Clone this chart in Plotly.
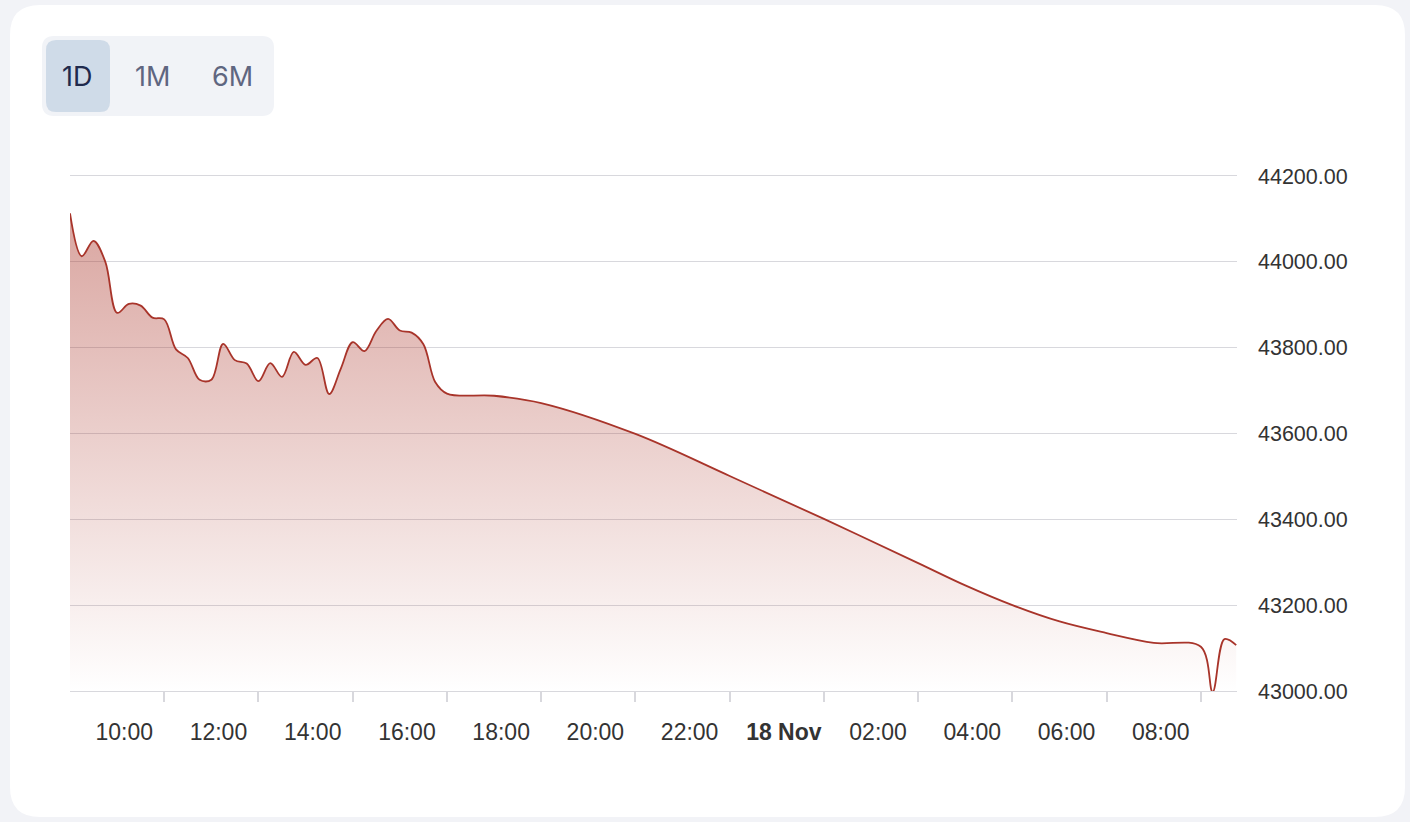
import plotly.graph_objects as go

# ---------------- data ----------------
session_times = [
    "2024-11-17 08:00", "2024-11-17 08:15", "2024-11-17 08:30", "2024-11-17 08:45",
    "2024-11-17 09:00", "2024-11-17 09:15", "2024-11-17 09:30", "2024-11-17 09:45",
    "2024-11-17 10:00", "2024-11-17 10:15", "2024-11-17 10:30", "2024-11-17 10:45",
    "2024-11-17 11:00", "2024-11-17 11:15", "2024-11-17 11:30", "2024-11-17 11:45",
    "2024-11-17 12:00", "2024-11-17 12:15", "2024-11-17 12:30", "2024-11-17 12:45",
    "2024-11-17 13:00", "2024-11-17 13:15", "2024-11-17 13:30", "2024-11-17 13:45",
    "2024-11-17 14:00", "2024-11-17 14:15", "2024-11-17 14:30", "2024-11-17 14:45",
    "2024-11-17 15:00", "2024-11-17 15:15", "2024-11-17 15:30", "2024-11-17 15:45",
    "2024-11-17 16:00",
]
session_values = [
    44113, 44013, 44049, 44000,
    43881, 43902, 43898, 43870,
    43866, 43796, 43776, 43725,
    43725, 43809, 43771, 43763,
    43722, 43764, 43732, 43790,
    43760, 43776, 43692, 43752,
    43813, 43792, 43839, 43867,
    43840, 43835, 43808, 43720,
    43693,
]
overnight_times = [
    "2024-11-17 17:00", "2024-11-17 18:00", "2024-11-17 20:00", "2024-11-17 22:00",
    "2024-11-18 00:00", "2024-11-18 02:00", "2024-11-18 03:00", "2024-11-18 04:00",
    "2024-11-18 05:00", "2024-11-18 06:00", "2024-11-18 07:00",
]
overnight_values = [43688, 43671, 43599, 43501, 43401, 43298, 43246, 43200,
                    43162, 43135, 43112]
morning_times = ["2024-11-18 08:00", "2024-11-18 08:15", "2024-11-18 08:30", "2024-11-18 08:45"]
morning_values = [43103, 42998, 43121, 43107]

tick_times = [
    "2024-11-17 10:00", "2024-11-17 12:00", "2024-11-17 14:00", "2024-11-17 16:00",
    "2024-11-17 18:00", "2024-11-17 20:00", "2024-11-17 22:00", "2024-11-18 00:00",
    "2024-11-18 02:00", "2024-11-18 04:00", "2024-11-18 06:00", "2024-11-18 08:00",
]
label_times = [
    "2024-11-17 09:09", "2024-11-17 11:09", "2024-11-17 13:09", "2024-11-17 15:09",
    "2024-11-17 17:09", "2024-11-17 19:09", "2024-11-17 21:09", "2024-11-17 23:09",
    "2024-11-18 01:09", "2024-11-18 03:09", "2024-11-18 05:09", "2024-11-18 07:09",
]
tick_labels = ["10:00", "12:00", "14:00", "16:00", "18:00", "20:00", "22:00",
               "<b>18 Nov</b>", "02:00", "04:00", "06:00", "08:00"]
y_ticks = [43000, 43200, 43400, 43600, 43800, 44000, 44200]
range_buttons = ["1D", "1M", "6M"]

x_range = ["2024-11-17 08:00", "2024-11-18 08:46"]
y_range = [43000, 44200]

times = session_times + overnight_times + morning_times
values = session_values + overnight_values + morning_values

# ---------------- layout helpers ----------------
W, H = 1410, 822
L, R, T, B = 70, 1237, 176, 691


def px(x):
    return (x - L) / (R - L)


def py(y):
    return (B - y) / (B - T)


def rrect(x0, y0, x1, y1, r):
    p = [
        f"M {px(x0 + r)} {py(y0)}",
        f"L {px(x1 - r)} {py(y0)}",
        f"Q {px(x1)} {py(y0)} {px(x1)} {py(y0 + r)}",
        f"L {px(x1)} {py(y1 - r)}",
        f"Q {px(x1)} {py(y1)} {px(x1 - r)} {py(y1)}",
        f"L {px(x0 + r)} {py(y1)}",
        f"Q {px(x0)} {py(y1)} {px(x0)} {py(y1 - r)}",
        f"L {px(x0)} {py(y0 + r)}",
        f"Q {px(x0)} {py(y0)} {px(x0 + r)} {py(y0)}",
        "Z",
    ]
    return " ".join(p)


LINE = "#a8342a"
GRID = "#d8d8dd"
FONT = "Helvetica Neue, Helvetica, Arial, Liberation Sans, sans-serif"

fig = go.Figure()
fig.add_trace(go.Scatter(
    x=times, y=values, mode="lines",
    line=dict(color=LINE, width=1.8, shape="spline", smoothing=1),
    fill="tozeroy",
    fillgradient=dict(
        type="vertical", start=43000, stop=44200,
        colorscale=[[0, "rgba(169,50,38,0.0)"], [1, "rgba(169,50,38,0.47)"]],
    ),
    hoverinfo="skip", showlegend=False,
))
# invisible trace for the label axis
fig.add_trace(go.Scatter(x=x_range, y=[None, None], xaxis="x2", yaxis="y",
                         mode="lines", hoverinfo="skip", showlegend=False))

shapes = [
    dict(type="path", xref="paper", yref="paper", path=rrect(10, 5, 1405, 817, 30),
         fillcolor="white", line=dict(width=0), layer="below"),
    dict(type="path", xref="paper", yref="paper", path=rrect(42, 36, 274, 116, 12),
         fillcolor="#f1f3f7", line=dict(width=0), layer="below"),
    dict(type="path", xref="paper", yref="paper", path=rrect(46, 40, 110, 112, 10),
         fillcolor="#cfdbe8", line=dict(width=0), layer="below"),
]

annotations = []
btn_x = [77, 152, 232]
btn_col = ["#1f2a4d", "#5f6680", "#5f6680"]
for lbl, bx, bc in zip(range_buttons, btn_x, btn_col):
    annotations.append(dict(
        text=lbl, x=px(bx), y=py(76), xref="paper", yref="paper",
        xanchor="center", yanchor="middle", showarrow=False,
        font=dict(family="Inter, Noto Sans, sans-serif", size=27, color=bc),
    ))

fig.update_layout(
    width=W, height=H,
    margin=dict(l=L, r=W - R, t=T, b=H - B, pad=0),
    paper_bgcolor="#f2f3f7",
    plot_bgcolor="rgba(0,0,0,0)",
    shapes=shapes, annotations=annotations,
    font=dict(family=FONT, color="#333333", size=20),
    xaxis=dict(
        type="date", range=x_range, tickvals=tick_times,
        ticktext=[""] * len(tick_times), ticks="outside", ticklen=10,
        tickcolor=GRID, tickwidth=1.5, showgrid=False, zeroline=False,
        showline=True, mirror=True, linecolor=GRID, linewidth=1.2, fixedrange=True,
    ),
    xaxis2=dict(
        type="date", range=x_range, overlaying="x", anchor="y", side="bottom",
        tickvals=label_times, ticktext=tick_labels, ticks="", showgrid=False,
        zeroline=False, showline=False, ticklabelstandoff=25,
        tickfont=dict(family=FONT, size=23, color="#333333"),
    ),
    yaxis=dict(
        range=y_range, tickvals=y_ticks, tickformat=".2f", side="right",
        showgrid=True, gridcolor=GRID, gridwidth=1.2, zeroline=False,
        showline=False, ticks="", ticklabelstandoff=20,
        tickfont=dict(family=FONT, size=21.5, color="#333333"),
    ),
)

fig.write_html(
    "out.html",
    config={"displayModeBar": False},
    post_script="document.body.style.margin='0';document.body.style.background='#f2f3f7';",
)
